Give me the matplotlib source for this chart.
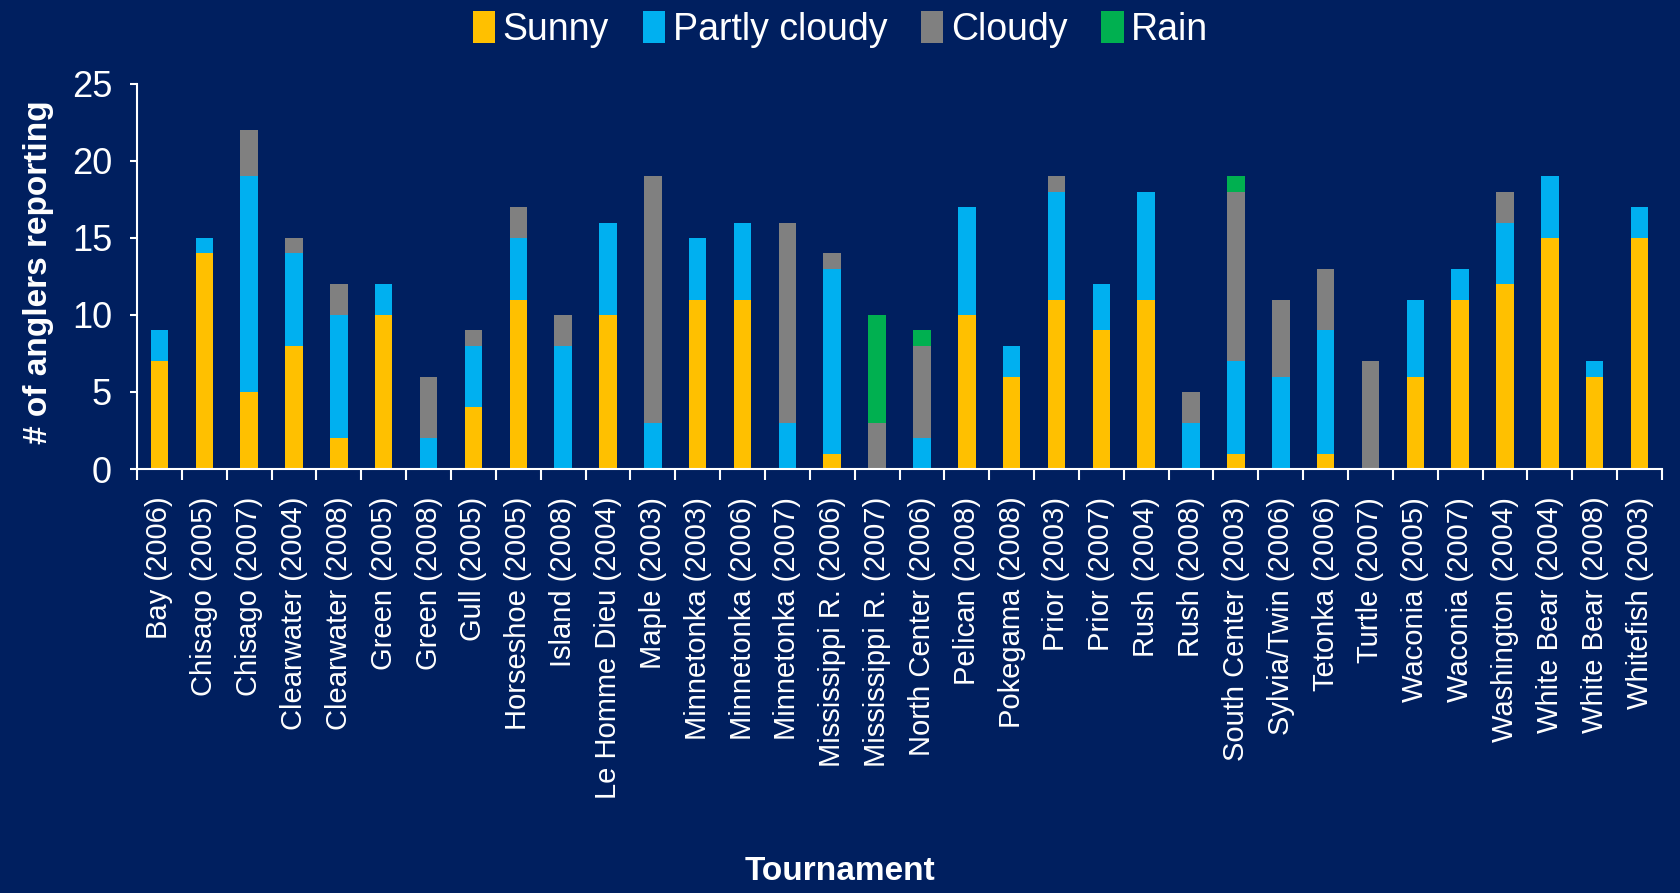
import numpy as np
import matplotlib.pyplot as plt

plt.rcParams['font.family'] = ['Liberation Sans', 'DejaVu Sans']

# tournament names and counts of anglers by weather type
tournaments = ['Bay (2006)', 'Chisago (2005)', 'Chisago (2007)', 'Clearwater (2004)',
               'Clearwater (2008)', 'Green (2005)', 'Green (2008)', 'Gull (2005)',
               'Horseshoe (2005)', 'Island (2008)', 'Le Homme Dieu (2004)', 'Maple (2003)',
               'Minnetonka (2003)', 'Minnetonka (2006)', 'Minnetonka (2007)',
               'Mississippi R. (2006)', 'Mississippi R. (2007)', 'North Center (2006)',
               'Pelican (2008)', 'Pokegama (2008)', 'Prior (2003)', 'Prior (2007)',
               'Rush (2004)', 'Rush (2008)', 'South Center (2003)', 'Sylvia/Twin (2006)',
               'Tetonka (2006)', 'Turtle (2007)', 'Waconia (2005)', 'Waconia (2007)',
               'Washington (2004)', 'White Bear (2004)', 'White Bear (2008)', 'Whitefish (2003)']
sunny  = [7, 14, 5, 8, 2, 10, 0, 4, 11, 0, 10, 0, 11, 11, 0, 1, 0, 0,
          10, 6, 11, 9, 11, 0, 1, 0, 1, 0, 6, 11, 12, 15, 6, 15]
partly = [2, 1, 14, 6, 8, 2, 2, 4, 4, 8, 6, 3, 4, 5, 3, 12, 0, 2,
          7, 2, 7, 3, 7, 3, 6, 6, 8, 0, 5, 2, 4, 4, 1, 2]
cloudy = [0, 0, 3, 1, 2, 0, 4, 1, 2, 2, 0, 16, 0, 0, 13, 1, 3, 6,
          0, 0, 1, 0, 0, 2, 11, 5, 4, 7, 0, 0, 2, 0, 0, 0]
rain   = [0, 0, 0, 0, 0, 0, 0, 0, 0, 0, 0, 0, 0, 0, 0, 0, 7, 1,
          0, 0, 0, 0, 0, 0, 1, 0, 0, 0, 0, 0, 0, 0, 0, 0]

series = [('Sunny', sunny, '#FFC000'),
          ('Partly cloudy', partly, '#00B0F0'),
          ('Cloudy', cloudy, '#808080'),
          ('Rain', rain, '#00B050')]

bg = '#001F5F'
fig = plt.figure(figsize=(16.81, 8.93), dpi=100, facecolor=bg)
ax = fig.add_axes([0.0815, 0.4748, 0.9072, 0.4312], facecolor=bg)

x = np.arange(len(tournaments))
bottom = np.zeros(len(tournaments))
for name, vals, col in series:
    vals = np.array(vals, dtype=float)
    ax.bar(x, vals, width=0.39, bottom=bottom, color=col, label=name, linewidth=0)
    bottom += vals

ax.set_xlim(-0.5, len(tournaments) - 0.5)
ax.set_ylim(0, 25)
ax.set_yticks([0, 5, 10, 15, 20, 25])
ax.set_xticks(x)
ax.set_xticklabels(tournaments, rotation=90, fontsize=21, color='white')
ax.set_xticks(np.arange(len(tournaments) + 1) - 0.5, minor=True)
ax.tick_params(axis='x', which='major', length=0, pad=20)
ax.tick_params(axis='x', which='minor', length=8, width=1.5, color='white')
ax.tick_params(axis='y', length=5, width=1.5, color='white', labelcolor='white',
               labelsize=26, pad=13)

for s in ['top', 'right']:
    ax.spines[s].set_visible(False)
for s in ['left', 'bottom']:
    ax.spines[s].set_color('white')
    ax.spines[s].set_linewidth(1.5)

fig.text(0.5, 0.024, 'Tournament', ha='center', va='center', fontsize=24,
         fontweight='bold', color='white')
fig.text(0.023, 0.695, '# of anglers reporting', ha='center', va='center',
         rotation=90, fontsize=24, fontweight='bold', color='white')

leg = fig.legend(loc='upper center', bbox_to_anchor=(0.5, 1.025), ncol=4,
                 frameon=False, fontsize=27, handlelength=0.6, handleheight=0.9,
                 handletextpad=0.2, columnspacing=0.9)
for t in leg.get_texts():
    t.set_color('white')

fig.savefig('out.png', dpi=100, facecolor=bg)
